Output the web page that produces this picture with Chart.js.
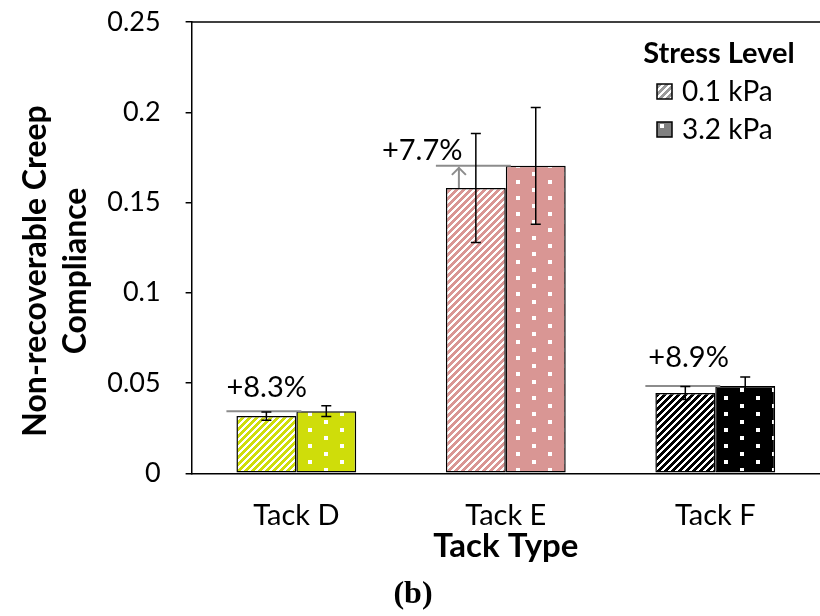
<!DOCTYPE html>
<html>
<head>
<meta charset="utf-8">
<script src="https://cdn.jsdelivr.net/npm/chart.js@4.4.1/dist/chart.umd.min.js"></script>
<style>
html,body{margin:0;padding:0;background:#fff}
#wrap{width:820px;height:616px}
</style>
</head>
<body>
<div id="wrap"><canvas id="chart" width="820" height="616"></canvas></div>
<script>
// -------------------- data
var categories = ['Tack D','Tack E','Tack F'];
var seriesNames = ['0.1 kPa','3.2 kPa'];
var lowStress = [0.0317,0.1581,0.0445];
var highStress = [0.0344,0.1703,0.0484];
var lowErr = [0.0023,0.0302,0.0036];
var highErr = [0.0030,0.0324,0.0050];
var changeLabels = ['+8.3%','+7.7%','+8.9%'];
var yTickLabels = ['0','0.05','0.1','0.15','0.2','0.25'];
var tackColors = ['#cfdd0a','#d99694','#000000'];

var FONT = 'Lato';
Chart.defaults.font.family = FONT;
Chart.defaults.color = '#000';

// -------------------- fill patterns
function hatch(color){
	var c = document.createElement('canvas');c.width = 7;c.height = 7;
	var g = c.getContext('2d');
	g.fillStyle = '#fff';g.fillRect(0,0,7,7);
	g.fillStyle = color;
	for(var x=0;x<7;x++){
		for(var y=0;y<7;y++){
			if((x+y)%7<4) g.fillRect(x,y,1,1);
		}
	}
	return g.createPattern(c,'repeat');
}
function dots(color){
	var c = document.createElement('canvas');c.width = 32;c.height = 16;
	var g = c.getContext('2d');
	g.fillStyle = color;g.fillRect(0,0,32,16);
	g.fillStyle = '#fff';
	g.fillRect(4,4,4,4);
	g.fillRect(20,12,4,4);
	return g.createPattern(c,'repeat');
}

// -------------------- error bars + change notes
var notesPlugin = {
	id:'notes',
	afterDatasetsDraw:function(chart){
		var ctx = chart.ctx, ys = chart.scales.y;
		var m0 = chart.getDatasetMeta(0).data, m1 = chart.getDatasetMeta(1).data;
		var offs = [[0,-24],[-54,-15],[3,-28]];
		ctx.save();
		for(var i=0;i<m0.length;i++){
			var b0 = m0[i], b1 = m1[i];
			var x0 = b0.x - b0.width/2 - 10;
			var x1 = b1.x - b1.width/2 + 5;
			var ly = ys.getPixelForValue(highStress[i]);
			ctx.strokeStyle = '#8c8c8c';ctx.lineWidth = 2;
			ctx.beginPath();ctx.moveTo(x0,ly);ctx.lineTo(x1,ly);ctx.stroke();
			if(b0.y - ly > 12){
				var ax = x0 + 23;
				ctx.beginPath();
				ctx.moveTo(ax,b0.y);ctx.lineTo(ax,ly+1);
				ctx.moveTo(ax-7,ly+9);ctx.lineTo(ax,ly+2);ctx.lineTo(ax+7,ly+9);
				ctx.stroke();
			}
			ctx.fillStyle = '#000';ctx.font = '29px '+FONT;
			ctx.textAlign = 'left';ctx.textBaseline = 'middle';
			ctx.fillText(changeLabels[i],x0+offs[i][0],ly+offs[i][1]);
		}
		var sets = [[m0,lowStress,lowErr],[m1,highStress,highErr]];
		ctx.strokeStyle = '#000';ctx.lineWidth = 1.5;
		sets.forEach(function(s){
			s[0].forEach(function(bar,i){
				var t = ys.getPixelForValue(s[1][i]+s[2][i]);
				var b = ys.getPixelForValue(s[1][i]-s[2][i]);
				ctx.beginPath();
				ctx.moveTo(bar.x,t);ctx.lineTo(bar.x,b);
				ctx.moveTo(bar.x-5,t);ctx.lineTo(bar.x+5,t);
				ctx.moveTo(bar.x-5,b);ctx.lineTo(bar.x+5,b);
				ctx.stroke();
			});
		});
		ctx.restore();
	},
	afterDraw:function(chart){
		var ctx = chart.ctx, a = chart.chartArea;
		ctx.save();
		// frame top
		ctx.strokeStyle = '#000';ctx.lineWidth = 1.5;
		ctx.beginPath();ctx.moveTo(a.left,a.top);ctx.lineTo(a.right,a.top);ctx.stroke();
		// legend
		ctx.fillStyle = '#000';
		ctx.font = 'bold 29px '+FONT;ctx.textAlign = 'center';ctx.textBaseline = 'middle';
		ctx.fillText('Stress Level',719,54);
		ctx.font = '28px '+FONT;ctx.textAlign = 'left';
		var fills = [hatch('#9a9a9a'),dots('#808080')];
		for(var k=0;k<2;k++){
			var by = 84 + k*38;
			ctx.fillStyle = fills[k];ctx.fillRect(657,by,15,15);
			ctx.lineWidth = 1.5;ctx.strokeStyle = '#000';ctx.strokeRect(657,by,15,15);
			ctx.fillStyle = '#000';
			ctx.fillText(seriesNames[k],682,by+8);
		}
		ctx.restore();
	}
};

var ctx = document.getElementById('chart').getContext('2d');
window.chart = new Chart(ctx,{
	type:'bar',
	data:{
		labels:categories,
		datasets:[
			{label:seriesNames[0],data:lowStress,backgroundColor:tackColors.map(hatch),borderColor:'#000',borderWidth:1.5,borderSkipped:false},
			{label:seriesNames[1],data:highStress,backgroundColor:tackColors.map(dots),borderColor:'#000',borderWidth:1.5,borderSkipped:false}
		]
	},
	options:{
		responsive:false,
		animation:false,
		layout:{padding:{left:0,right:-6,top:22,bottom:0}},
		datasets:{bar:{categoryPercentage:0.572,barPercentage:1}},
		plugins:{
			legend:{display:false},
			tooltip:{enabled:false},
			title:{display:true,position:'bottom',text:'(b)',
				font:{family:'Liberation Serif',size:32,weight:'bold'},padding:{top:0,bottom:1.8}}
		},
		scales:{
			x:{
				grid:{display:false,drawTicks:false},
				border:{display:true,color:'#000',width:1.5},
				ticks:{font:{size:29},padding:25.3},
				title:{display:true,text:'Tack Type',font:{size:33,weight:'bold'},padding:{top:0,bottom:10}},
				afterFit:function(s){s.height = 102.5;}
			},
			y:{
				min:0,max:0.25,
				grid:{drawOnChartArea:false,drawTicks:true,tickLength:6,color:'#000',lineWidth:1.5},
				border:{display:true,color:'#000',width:1.5},
				ticks:{stepSize:0.05,font:{size:27},padding:25,callback:function(v,i){return yTickLabels[i];}},
				title:{display:true,text:['Non-recoverable Creep      ','Compliance      '],
					font:{size:32,weight:'bold',lineHeight:1.25},padding:{top:16,bottom:0}},
				afterFit:function(s){s.width = 191.6;s.paddingTop = 0;s.paddingBottom = 0;}
			}
		}
	},
	plugins:[notesPlugin]
});
</script>
</body>
</html>
